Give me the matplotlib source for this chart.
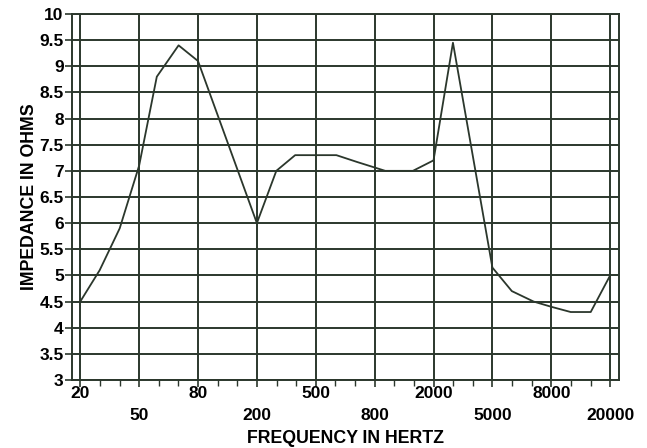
import numpy as np
import matplotlib
matplotlib.use("Agg")
import matplotlib.pyplot as plt

# frequency axis is evenly spaced by label, not a true log scale
freq_labels = ["20", "50", "80", "200", "500", "800", "2000", "5000", "8000", "20000"]

# curve: position along the frequency axis (label index) and ohms
curve_pos = [0.0, 0.33, 0.67, 1.0, 1.3, 1.67, 2.0, 3.0, 3.33, 3.65, 4.0, 4.35, 4.7,
             5.18, 5.65, 6.0, 6.33, 7.0, 7.33, 7.7, 8.0, 8.33, 8.67, 9.0]
curve_ohms = [4.5, 5.1, 5.9, 7.1, 8.8, 9.4, 9.1, 6.0, 7.0, 7.3, 7.3, 7.3, 7.17,
              7.0, 7.0, 7.2, 9.45, 5.15, 4.7, 4.5, 4.4, 4.3, 4.3, 5.0]

y_ticks = np.arange(3, 10.01, 0.5)
y_labels = ["3", "3.5", "4", "4.5", "5", "5.5", "6", "6.5", "7", "7.5", "8", "8.5", "9", "9.5", "10"]

ink = "#2b372c"
plt.rcParams["font.family"] = ["Liberation Sans", "DejaVu Sans"]
plt.rcParams["font.weight"] = "bold"
plt.rcParams["axes.labelweight"] = "bold"

fig = plt.figure(figsize=(6.47, 4.48), dpi=100)
ax = fig.add_axes([0.1113, 0.1518, 0.8454, 0.817])

ax.plot(curve_pos, curve_ohms, color=ink, lw=1.3, zorder=3)

ax.set_xlim(-0.14, 9.15)
ax.set_ylim(3, 10)

ax.set_xticks(np.arange(len(freq_labels)))
ax.set_xticklabels(freq_labels, fontsize=12.5)
ax.set_xticks(np.arange(0, len(freq_labels) - 1, 1 / 3), minor=True)
ax.set_yticks(y_ticks)
ax.set_yticklabels(y_labels, fontsize=12.5)

# stagger the frequency labels on two rows
for i, t in enumerate(ax.xaxis.get_major_ticks()):
    t.set_pad(-1 if i % 2 == 0 else 15)

ax.tick_params(axis="x", which="major", length=5, width=1.2, color=ink)
ax.tick_params(axis="x", which="minor", length=4, width=1.0, color=ink)
ax.tick_params(axis="y", length=5, width=1.2, color=ink, pad=1)

ax.grid(True, which="major", color=ink, lw=1.4)
for s in ax.spines.values():
    s.set_color(ink)
    s.set_linewidth(1.4)

ax.set_xlabel("FREQUENCY IN HERTZ", fontsize=12.8)
ax.xaxis.set_label_coords(0.5, -0.137)
ax.set_ylabel("IMPEDANCE IN OHMS", fontsize=12.8, labelpad=1)

fig.savefig("out.png", dpi=100)
